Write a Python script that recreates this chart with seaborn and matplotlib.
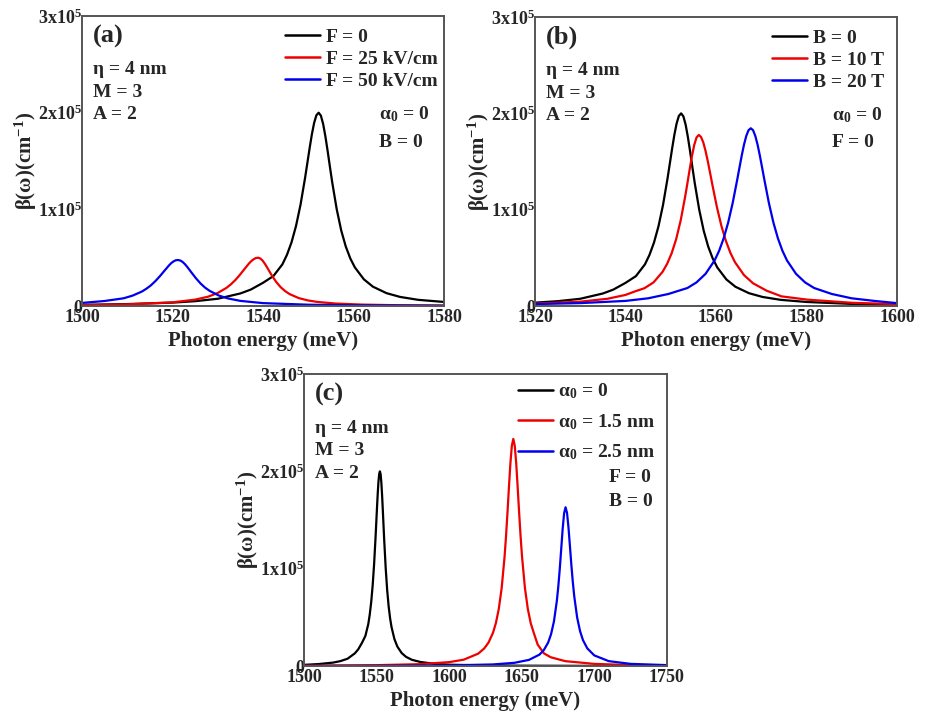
import matplotlib
matplotlib.use("Agg")
import matplotlib.pyplot as plt
import seaborn as sns
import pandas as pd

# values, beta in units of 1e5 cm^-1
black_x = [1500, 1510, 1520, 1525, 1530, 1535, 1537.3, 1540, 1542.3, 1544.3, 1545.3, 1546.3,
           1547.3, 1548.3, 1549.3, 1549.8, 1550.3, 1550.8, 1551.3, 1551.8, 1552.3, 1552.8,
           1553.3, 1553.8, 1554.3, 1554.8, 1555.3, 1556.3, 1557.3, 1558.3, 1559.3, 1560.3,
           1562.3, 1564.3, 1567.3, 1570.3, 1574.3, 1580, 1590, 1600, 1620, 1650, 1700, 1750]
black_y = [0.012, 0.02, 0.035, 0.05, 0.075, 0.13, 0.17, 0.24, 0.31, 0.432, 0.53, 0.658,
           0.828, 1.049, 1.325, 1.478, 1.631, 1.775, 1.894, 1.973, 2.0, 1.969,
           1.882, 1.753, 1.6, 1.438, 1.28, 1.0, 0.78, 0.615, 0.492, 0.4,
           0.276, 0.2, 0.133, 0.094, 0.064, 0.042, 0.022, 0.0135, 0.0075, 0.0035, 0.0015, 0.0009]

# (a) electric field
f25_x = [1500, 1510, 1520, 1525, 1527.9, 1530, 1531.9, 1532.9, 1533.9, 1534.9, 1535.9, 1536.9,
         1537.4, 1537.9, 1538.4, 1538.9, 1539.4, 1539.9, 1540.4, 1540.9, 1541.9, 1542.9,
         1543.9, 1544.9, 1545.9, 1547.9, 1549.9, 1551.9, 1555.9, 1561.9, 1569.9, 1580]
f25_y = [0.0095, 0.017, 0.038, 0.066, 0.097, 0.135, 0.187, 0.224, 0.269, 0.323, 0.382, 0.44,
         0.464, 0.483, 0.496, 0.5, 0.492, 0.47, 0.438, 0.4, 0.32, 0.25,
         0.195, 0.154, 0.123, 0.082, 0.058, 0.043, 0.026, 0.0146, 0.0082, 0.0047]
f50_x = [1500, 1505, 1509.2, 1511.2, 1513.2, 1514.2, 1515.2, 1516.2, 1517.2, 1518.2, 1519.2,
         1519.7, 1520.2, 1520.7, 1521.2, 1521.7, 1522.2, 1522.7, 1523.2, 1524.2, 1525.2,
         1526.2, 1527.2, 1528.2, 1530.2, 1532.2, 1535, 1540, 1550, 1560, 1580]
f50_y = [0.032, 0.052, 0.08, 0.108, 0.149, 0.178, 0.213, 0.257, 0.308, 0.364, 0.419,
         0.443, 0.461, 0.473, 0.476, 0.471, 0.457, 0.435, 0.408, 0.346, 0.286,
         0.233, 0.19, 0.157, 0.109, 0.079, 0.053, 0.03, 0.0134, 0.0075, 0.0033]

# (b) magnetic field
b10_x = [1520, 1530, 1536, 1540, 1542, 1544.2, 1546.2, 1548.2, 1549.2, 1550.2, 1551.2, 1552.2,
         1553.2, 1553.7, 1554.2, 1554.7, 1555.2, 1555.7, 1556.2, 1556.7, 1557.2, 1557.7,
         1558.2, 1558.7, 1559.2, 1560.2, 1561.2, 1562.2, 1563.2, 1564.2, 1566.2, 1568.2,
         1571.2, 1574.5, 1580.2, 1590.2, 1600]
b10_y = [0.025, 0.045, 0.075, 0.115, 0.15, 0.185, 0.245, 0.355, 0.437, 0.547, 0.693, 0.888,
         1.137, 1.277, 1.421, 1.557, 1.672, 1.749, 1.776, 1.755, 1.698, 1.61,
         1.502, 1.383, 1.261, 1.029, 0.832, 0.675, 0.551, 0.455, 0.321, 0.236,
         0.159, 0.1, 0.066, 0.033, 0.02]
b20_x = [1520, 1530, 1540, 1545, 1549.5, 1553.7, 1555.7, 1557.7, 1559.7, 1560.7, 1561.7,
         1562.7, 1563.7, 1564.7, 1565.2, 1565.7, 1566.2, 1566.7, 1567.2, 1567.7, 1568.2,
         1568.7, 1569.2, 1569.7, 1570.2, 1570.7, 1571.7, 1572.7, 1573.7, 1574.7, 1575.7,
         1577.7, 1579.7, 1581.7, 1585.6, 1590, 1595, 1600]
b20_y = [0.02, 0.03, 0.053, 0.08, 0.125, 0.187, 0.245, 0.334, 0.473, 0.573, 0.702,
         0.866, 1.07, 1.311, 1.438, 1.562, 1.675, 1.765, 1.825, 1.845, 1.825,
         1.765, 1.675, 1.562, 1.438, 1.311, 1.07, 0.866, 0.702, 0.573, 0.473,
         0.334, 0.245, 0.187, 0.125, 0.08, 0.053, 0.03]

# (c) structural parameter alpha0
a15_x = [1500, 1550, 1580, 1600, 1610, 1620, 1624.2, 1627.2, 1630.2, 1632.2, 1634.2, 1636.2,
         1638.2, 1639.2, 1640.2, 1641.2, 1642.2, 1643.2, 1644.2, 1645.2, 1646.2, 1647.2,
         1648.2, 1649.2, 1650.2, 1652.2, 1654.2, 1656.2, 1658.4, 1661, 1665.3, 1670,
         1680, 1700, 1720, 1750]
a15_y = [0.0038, 0.0088, 0.019, 0.04, 0.065, 0.127, 0.181, 0.243, 0.341, 0.441, 0.587, 0.803,
         1.126, 1.337, 1.579, 1.839, 2.083, 2.263, 2.333, 2.263, 2.083, 1.839,
         1.579, 1.337, 1.126, 0.803, 0.587, 0.44, 0.336, 0.22, 0.13, 0.09,
         0.05, 0.022, 0.012, 0.006]
a25_x = [1500, 1550, 1600, 1630, 1645, 1655, 1662.2, 1665.2, 1668.2, 1670.2, 1672.2, 1674.2,
         1675.2, 1676.2, 1677.2, 1678.2, 1679.2, 1680.2, 1681.2, 1682.2, 1683.2, 1684.2,
         1685.2, 1686.2, 1688.2, 1690.2, 1692.2, 1695.2, 1700, 1710, 1725, 1750]
a25_y = [0.0013, 0.0024, 0.0064, 0.016, 0.033, 0.063, 0.117, 0.163, 0.241, 0.326, 0.458, 0.669,
         0.816, 0.995, 1.2, 1.407, 1.569, 1.631, 1.574, 1.427, 1.235, 1.039,
         0.863, 0.715, 0.497, 0.358, 0.266, 0.181, 0.109, 0.05, 0.022, 0.0093]

y_ticks = [0, 1, 2, 3]
y_ticklabels = ["0", "1x10$^{5}$", "2x10$^{5}$", "3x10$^{5}$"]

sns.set_style("white")
plt.rcParams["font.family"] = ["Liberation Serif", "DejaVu Serif"]
plt.rcParams["font.weight"] = "bold"
plt.rcParams["mathtext.fontset"] = "custom"
plt.rcParams["mathtext.rm"] = "Liberation Serif:bold"
plt.rcParams["mathtext.it"] = "Liberation Serif:italic:bold"
plt.rcParams["mathtext.bf"] = "Liberation Serif:bold"
plt.rcParams["mathtext.default"] = "rm"

palette = ["#000000", "#ee0000", "#0000ee"]


def make_df(curves):
    rows = []
    for label, xs, ys in curves:
        for x, y in zip(xs, ys):
            rows.append({"E": x, "beta": y, "curve": label})
    return pd.DataFrame(rows)


def draw(ax, df, labels, xlim, xticks, tag, params, extra, extra_xy, leg_space, leg_anchor):
    sns.lineplot(data=df, x="E", y="beta", hue="curve", hue_order=labels,
                 palette=palette, estimator=None, linewidth=1.6, ax=ax)
    ax.set_xlim(*xlim)
    ax.set_ylim(0, 3)
    ax.set_xticks(xticks)
    ax.set_xticklabels([str(t) for t in xticks], fontsize=13, fontweight="bold")
    ax.set_yticks(y_ticks)
    ax.set_yticklabels(y_ticklabels, fontsize=13, fontweight="bold")
    ax.tick_params(axis="both", length=0)
    ax.tick_params(axis="x", pad=2)
    ax.tick_params(axis="y", pad=0)
    for s in ax.spines.values():
        s.set_color("#555555")
        s.set_linewidth(1.4)
    ax.set_xlabel("Photon energy (meV)", fontsize=15, fontweight="bold", labelpad=4)
    ax.set_ylabel("β(ω)(cm$^{-1}$)", fontsize=15, fontweight="bold", labelpad=-1)
    ax.text(0.03, 0.93, tag, transform=ax.transAxes, fontsize=19, fontweight="bold",
            va="center", ha="left")
    for i, p in enumerate(params):
        ax.text(0.03, 0.815 - i * 0.078, p, transform=ax.transAxes, fontsize=14,
                fontweight="bold", va="center", ha="left")
    for i, p in enumerate(extra):
        ax.text(extra_xy[0], extra_xy[1] - i * extra_xy[2], p, transform=ax.transAxes,
                fontsize=14, fontweight="bold", va="center", ha="left")
    leg = ax.legend(loc="upper right", bbox_to_anchor=leg_anchor, frameon=False,
                    fontsize=14, handlelength=1.8, handletextpad=0.3,
                    labelspacing=leg_space, borderaxespad=0)
    for line in leg.get_lines():
        line.set_linewidth(1.8)
    for t in leg.get_texts():
        t.set_fontweight("bold")


fig = plt.figure(figsize=(9.28, 7.18), dpi=100)
ax_a = fig.add_axes([0.0884, 0.5738, 0.390, 0.4039])
ax_b = fig.add_axes([0.5765, 0.5738, 0.390, 0.4025])
ax_c = fig.add_axes([0.3276, 0.0724, 0.391, 0.4067])

params = ["η = 4 nm", "M = 3", "A = 2"]

lab_a = ["F = 0", "F = 25 kV/cm", "F = 50 kV/cm"]
df_a = make_df([(lab_a[0], black_x, black_y), (lab_a[1], f25_x, f25_y), (lab_a[2], f50_x, f50_y)])
draw(ax_a, df_a, lab_a, (1500, 1580), [1500, 1520, 1540, 1560, 1580], "(a)", params,
     ["α$_{0}$ = 0", "B = 0"], (0.82, 0.66, 0.095), 0.22, (1.005, 0.985))

lab_b = ["B = 0", "B = 10 T", "B = 20 T"]
df_b = make_df([(lab_b[0], black_x, black_y), (lab_b[1], b10_x, b10_y), (lab_b[2], b20_x, b20_y)])
draw(ax_b, df_b, lab_b, (1520, 1600), [1520, 1540, 1560, 1580, 1600], "(b)", params,
     ["α$_{0}$ = 0", "F = 0"], (0.82, 0.66, 0.095), 0.22, (0.985, 0.985))

lab_c = ["α$_{0}$ = 0", "α$_{0}$ = 1.5 nm", "α$_{0}$ = 2.5 nm"]
df_c = make_df([(lab_c[0], black_x, black_y), (lab_c[1], a15_x, a15_y), (lab_c[2], a25_x, a25_y)])
draw(ax_c, df_c, lab_c, (1500, 1750), [1500, 1550, 1600, 1650, 1700, 1750], "(c)", params,
     ["F = 0", "B = 0"], (0.84, 0.645, 0.082), 0.55, (0.99, 1.0))

fig.savefig("out.png", dpi=100)
